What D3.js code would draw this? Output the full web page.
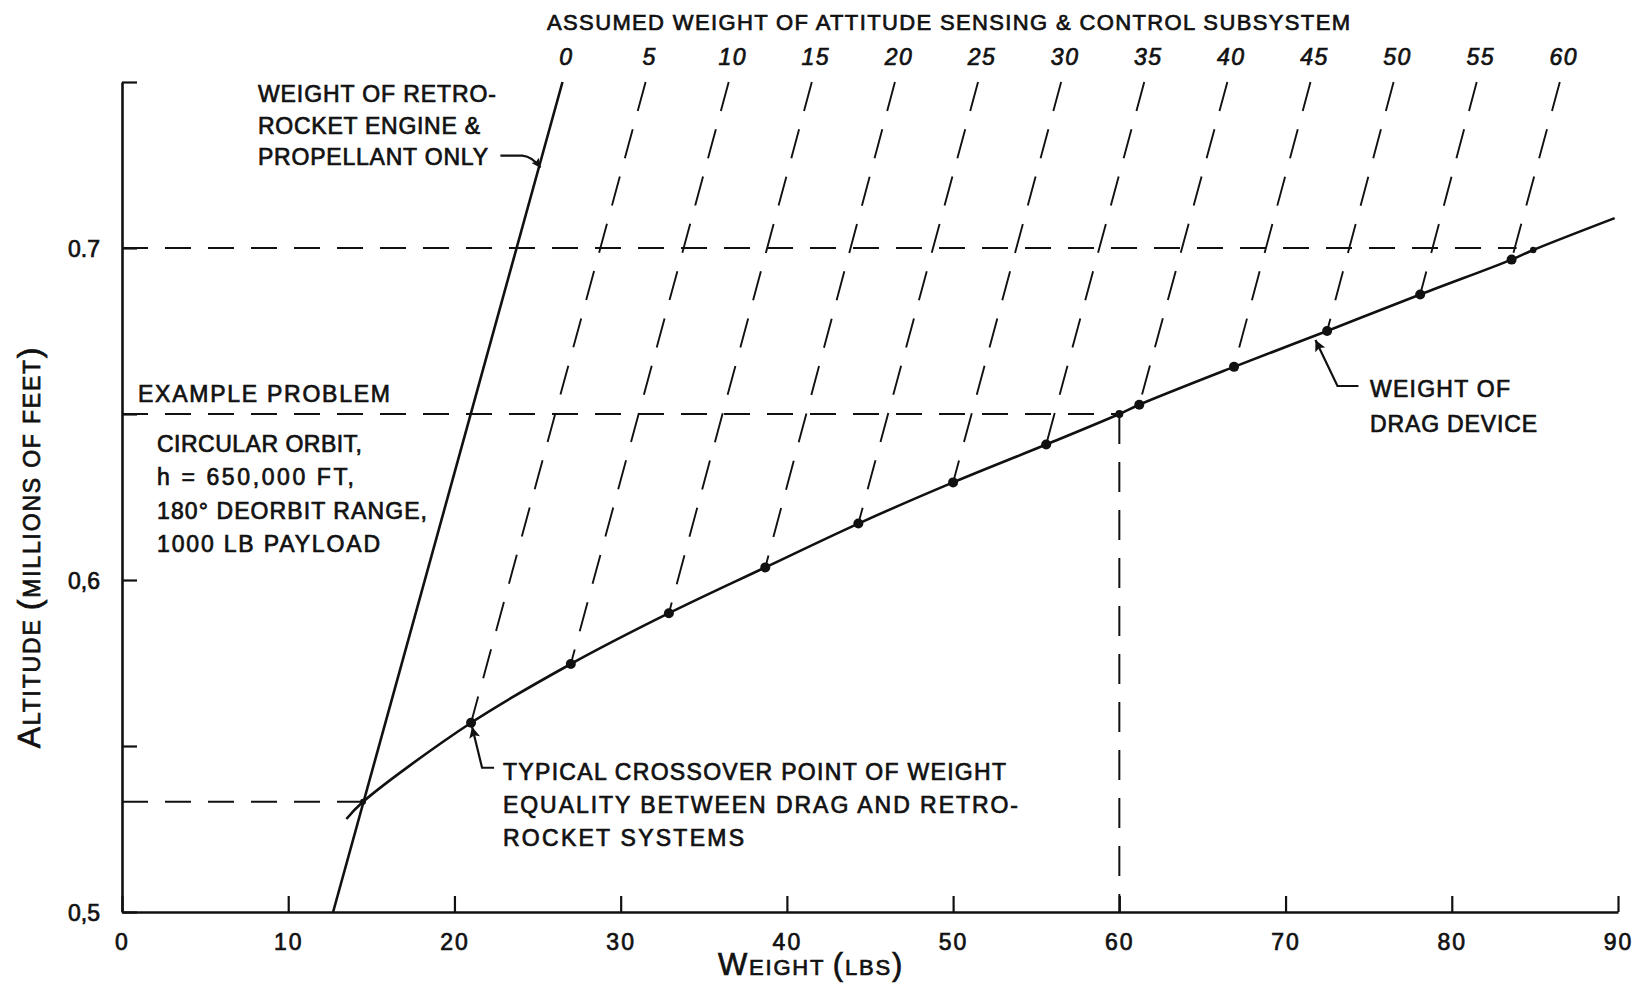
<!DOCTYPE html>
<html lang="en">
<head>
<meta charset="utf-8">
<script src="https://d3js.org/d3.v7.min.js"></script>
<style>
  body { margin: 0; background: #fff; }
  svg text { font-family: "Liberation Sans", Arial, sans-serif; fill: #111; stroke: #111; stroke-width: 0.7px; }
</style>
</head>
<body>
<div id="chart"></div>
<script>
// weight of drag device (lbs) against altitude (millions of ft)
const dragWeight = [13.5, 14.5, 21.0, 27.0, 32.9, 38.7, 44.3, 50.0, 55.6, 60.0, 61.2, 66.9, 72.5, 78.1, 83.6, 84.9, 89.8];
const dragAlt = [0.528, 0.5332, 0.557, 0.5747, 0.590, 0.6038, 0.617, 0.6294, 0.6408, 0.650, 0.6528, 0.6642, 0.675, 0.686, 0.6965, 0.6994, 0.709];

// weight of retro-rocket engine & propellant only
const retroWeight = [12.7, 26.5];
const retroAlt = [0.5, 0.75];

// assumed attitude sensing & control weights, and where each line meets the drag curve
const attitudeWeight = [0, 5, 10, 15, 20, 25, 30, 35, 40, 45, 50, 55, 60];
const crossWeight = [14.5, 21.0, 27.0, 32.9, 38.7, 44.3, 50.0, 55.6, 61.2, 66.9, 72.5, 78.1, 83.6];
const crossAlt = [0.5332, 0.557, 0.5747, 0.590, 0.6038, 0.617, 0.6294, 0.6408, 0.6528, 0.6642, 0.675, 0.686, 0.6965];

const xTicks = [0, 10, 20, 30, 40, 50, 60, 70, 80, 90];
const yTicks = [0.5, 0.55, 0.6, 0.65, 0.7, 0.75];
const yTickLabels = ["0,5", "", "0,6", "", "0.7", ""];

// dashed reference lines (altitude, where they stop)
const refAlt = [0.7, 0.65, 0.5332];
const refEndWeight = [83.9, 60, 14.5];
const exampleWeight = 60, exampleAlt = 0.65;
const markWeight = 84.9, markAlt = 0.6994;

const width = 1641, height = 990;

const svg = d3.select("#chart")
    .append("svg")
    .attr("width", width)
    .attr("height", height)
    .style("background", "#fff");

const x = d3.scaleLinear().domain([0, 90]).range([122, 1618]);
const y = d3.scaleLinear().domain([0.5, 0.75]).range([912, 82]);

const ink = "#111";

// markers for the leader arrows
const defs = svg.append("defs");
function marker(id, w, h) {
    defs.append("marker")
        .attr("id", id)
        .attr("viewBox", "0 0 10 10")
        .attr("refX", 10).attr("refY", 5)
        .attr("markerUnits", "userSpaceOnUse")
        .attr("markerWidth", w).attr("markerHeight", h)
        .attr("orient", "auto")
        .append("path")
        .attr("d", "M0,0 L10,5 L0,10 L2,5 Z")
        .attr("fill", ink);
}
marker("headBig", 24, 11);
marker("headSmall", 15, 9);

// axes
const xAxis = svg.append("g")
    .attr("transform", `translate(0,${y(0.5)})`)
    .call(d3.axisBottom(x).tickValues(xTicks).tickSizeInner(-16).tickSizeOuter(0).tickPadding(0).tickFormat(d3.format("d")));
xAxis.selectAll("text").attr("y", 38).attr("dy", null).style("font-size", "23px").style("letter-spacing", "2px");

const yAxis = svg.append("g")
    .attr("transform", `translate(${x(0)},0)`)
    .call(d3.axisLeft(y).tickValues(yTicks).tickSizeInner(-15).tickSizeOuter(0).tickPadding(22).tickFormat((d, i) => yTickLabels[i]));
yAxis.selectAll("text").style("font-size", "23px").attr("dy", "0.36em");

svg.selectAll(".domain").attr("stroke", ink).attr("stroke-width", 2.6);
svg.selectAll(".tick line").attr("stroke", ink).attr("stroke-width", 2.2);
svg.selectAll(".tick text").attr("fill", ink);
xAxis.attr("font-family", null);
yAxis.attr("font-family", null);

// horizontal reference lines
svg.selectAll("line.ref")
    .data(refAlt)
    .join("line")
    .attr("class", "ref")
    .attr("x1", x(0))
    .attr("x2", (d, i) => x(refEndWeight[i]))
    .attr("y1", d => y(d))
    .attr("y2", d => y(d))
    .attr("stroke", ink)
    .attr("stroke-width", 2)
    .attr("stroke-dasharray", "26,17");

// example problem drop line
svg.append("line")
    .attr("x1", x(exampleWeight)).attr("x2", x(exampleWeight))
    .attr("y1", y(exampleAlt)).attr("y2", y(0.5))
    .attr("stroke", ink)
    .attr("stroke-width", 2)
    .attr("stroke-dasharray", "30,18");

// dashed lines for each assumed attitude system weight
const attLine = d3.line().x(d => x(d[0])).y(d => y(d[1]));
svg.selectAll("path.att")
    .data(attitudeWeight.slice(1))
    .join("path")
    .attr("class", "att")
    .attr("d", (a, i) => attLine([[retroWeight[1] + a, retroAlt[1]], [crossWeight[i + 1], crossAlt[i + 1]]]))
    .attr("fill", "none")
    .attr("stroke", ink)
    .attr("stroke-width", 1.9)
    .attr("stroke-dasharray", "30,19");

// retro-rocket line
svg.append("path")
    .attr("d", attLine(retroWeight.map((w, i) => [w, retroAlt[i]])))
    .attr("stroke", ink)
    .attr("stroke-width", 2.6);

// drag device curve
const dragLine = d3.line().curve(d3.curveCatmullRom).x(d => x(d[0])).y(d => y(d[1]));
svg.append("path")
    .attr("d", dragLine(dragWeight.map((w, i) => [w, dragAlt[i]])))
    .attr("fill", "none")
    .attr("stroke", ink)
    .attr("stroke-width", 2.6);

// dots
svg.selectAll("circle.cross")
    .data(crossWeight.slice(1))
    .join("circle")
    .attr("class", "cross")
    .attr("cx", d => x(d))
    .attr("cy", (d, i) => y(crossAlt[i + 1]))
    .attr("r", 5)
    .attr("fill", ink);
svg.append("circle").attr("cx", x(crossWeight[0])).attr("cy", y(crossAlt[0])).attr("r", 3).attr("fill", ink);
svg.append("circle").attr("cx", x(exampleWeight)).attr("cy", y(exampleAlt)).attr("r", 4).attr("fill", ink);
svg.append("circle").attr("cx", x(markWeight)).attr("cy", y(markAlt)).attr("r", 3.2).attr("fill", ink);

// top scale: assumed weight of attitude subsystem
svg.append("text")
    .attr("x", 547).attr("y", 30)
    .attr("textLength", 803).attr("lengthAdjust", "spacing")
    .style("font-size", "22px")
    .text("ASSUMED  WEIGHT OF ATTITUDE SENSING & CONTROL SUBSYSTEM");

svg.selectAll("text.att")
    .data(attitudeWeight)
    .join("text")
    .attr("class", "att")
    .attr("x", a => x(retroWeight[1] + a) + 4)
    .attr("y", 65)
    .attr("text-anchor", "middle")
    .style("font-size", "23px")
    .style("font-style", "italic")
    .style("letter-spacing", "1.5px")
    .text(a => a);

// annotation text blocks
function block(lines, px, py, step, lens) {
    lines.forEach((t, i) => {
        svg.append("text")
            .attr("x", px).attr("y", py + i * step)
            .attr("textLength", lens[i]).attr("lengthAdjust", "spacing")
            .style("font-size", "23px")
            .text(t);
    });
}

block(["WEIGHT OF RETRO-", "ROCKET ENGINE &", "PROPELLANT ONLY"], 258, 102, 31.5, [238, 222, 230]);
block(["EXAMPLE PROBLEM"], 138, 402, 0, [252]);
block(["CIRCULAR ORBIT,", "h = 650,000 FT,", "180° DEORBIT RANGE,", "1000 LB PAYLOAD"], 157, 452, 33.3, [205, 197, 270, 223]);
block(["TYPICAL CROSSOVER POINT OF WEIGHT", "EQUALITY BETWEEN DRAG AND RETRO-", "ROCKET SYSTEMS"], 503, 780, 33, [503, 515, 241]);
block(["WEIGHT OF", "DRAG DEVICE"], 1370, 397, 35, [140, 167]);

// leader arrows
const retroTip = [x(25.17), y(0.7242)];
svg.append("path")
    .attr("d", `M${retroTip[0] - 40},${retroTip[1] - 12} L${retroTip[0] - 18},${retroTip[1] - 12} Q${retroTip[0] - 8},${retroTip[1] - 11} ${retroTip[0]},${retroTip[1]}`)
    .attr("fill", "none")
    .attr("stroke", ink)
    .attr("stroke-width", 2.2)
    .attr("marker-end", "url(#headSmall)");

const crossTip = [x(crossWeight[1]) + 1, y(crossAlt[1]) + 4];
svg.append("path")
    .attr("d", `M${crossTip[0] + 22},${crossTip[1] + 41} L${crossTip[0] + 10},${crossTip[1] + 41} L${crossTip[0]},${crossTip[1]}`)
    .attr("fill", "none")
    .attr("stroke", ink)
    .attr("stroke-width", 2.2)
    .attr("marker-end", "url(#headBig)");

const dragTip = [x(71.8), y(0.6735) + 4];
svg.append("path")
    .attr("d", `M${dragTip[0] + 43},${dragTip[1] + 46} L${dragTip[0] + 22},${dragTip[1] + 46} L${dragTip[0]},${dragTip[1]}`)
    .attr("fill", "none")
    .attr("stroke", ink)
    .attr("stroke-width", 2.2)
    .attr("marker-end", "url(#headBig)");

// axis titles, hand-lettered with a large first letter
const xt = svg.append("text")
    .attr("x", 811).attr("y", 975)
    .attr("text-anchor", "middle")
    .style("font-size", "22px")
    .style("letter-spacing", "1.8px");
xt.append("tspan").style("font-size", "31px").text("W");
xt.append("tspan").text("EIGHT ");
xt.append("tspan").style("font-size", "31px").text("(");
xt.append("tspan").text("LBS");
xt.append("tspan").style("font-size", "31px").text(")");

const yt = svg.append("text")
    .attr("transform", "translate(40,547) rotate(-90)")
    .attr("text-anchor", "middle")
    .style("font-size", "23px")
    .style("letter-spacing", "1.8px");
yt.append("tspan").style("font-size", "32px").text("A");
yt.append("tspan").text("LTITUDE ");
yt.append("tspan").style("font-size", "32px").text("(");
yt.append("tspan").text("MILLIONS OF FEET");
yt.append("tspan").style("font-size", "32px").text(")");
</script>
</body>
</html>
